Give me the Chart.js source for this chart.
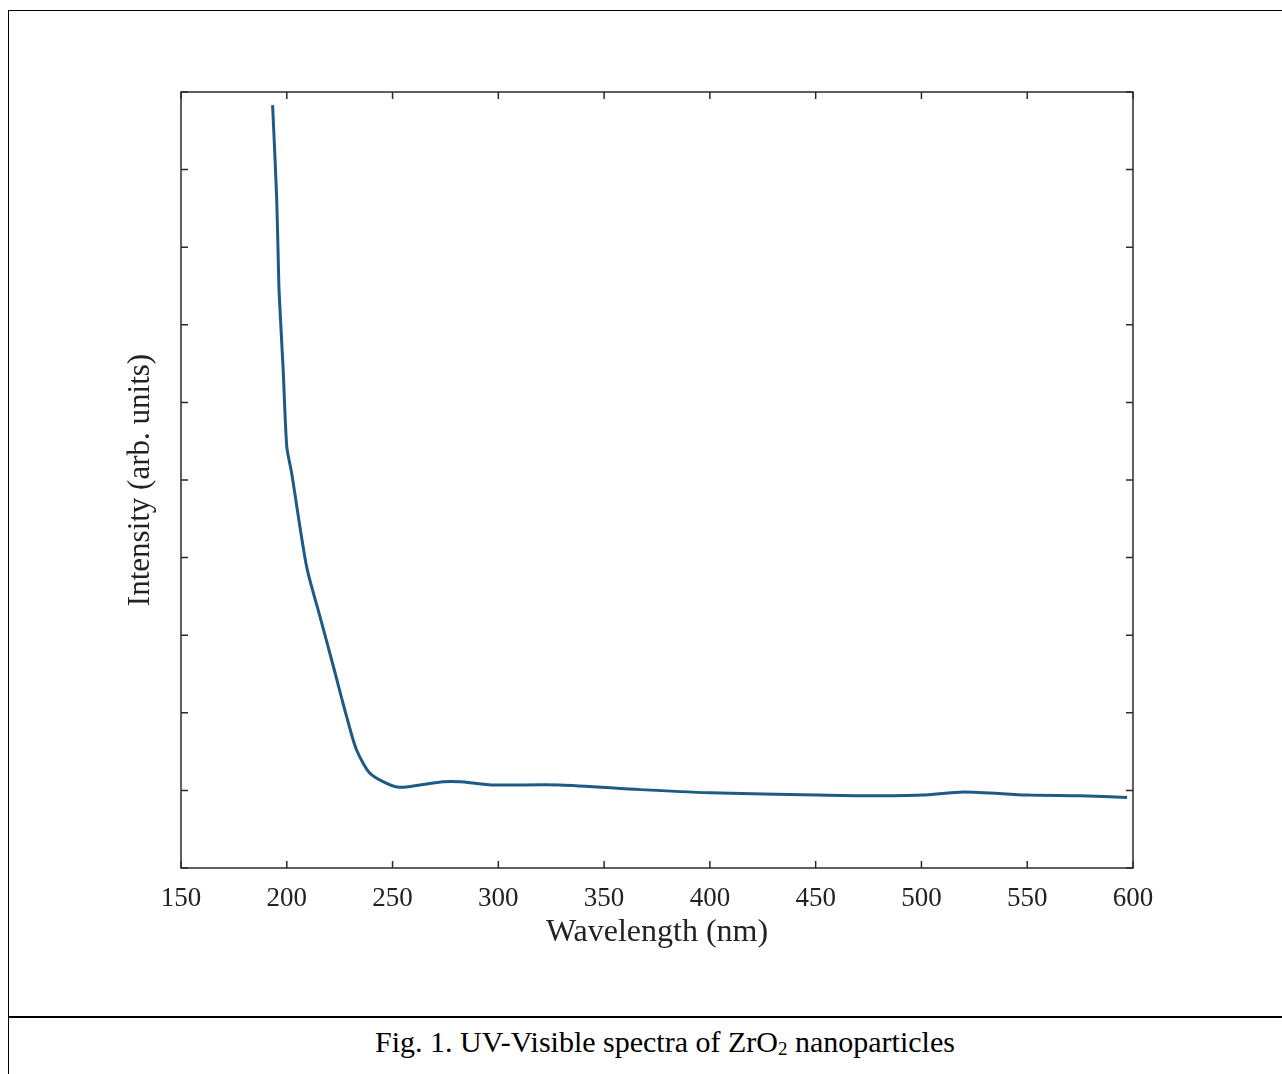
<!DOCTYPE html>
<html>
<head>
<meta charset="utf-8">
<script src="https://cdn.jsdelivr.net/npm/chart.js@4.4.1/dist/chart.umd.min.js"></script>
<style>
  html, body { margin: 0; padding: 0; background: #fff; }
  body { width: 1282px; height: 1074px; position: relative; overflow: hidden; }
  #wrap { position: absolute; left: 0; top: 0; width: 1282px; height: 1000px; }
  .ln { position: absolute; background: #000; }
  #caption { position: absolute; left: 48px; right: 0; top: 1025px; text-align: center;
    font-family: "Liberation Serif", "Times New Roman", serif; font-size: 30px; color: #000; }
  #caption sub { font-size: 19px; vertical-align: -3px; line-height: 0; }
</style>
</head>
<body>
<div class="ln" style="left:8px; top:10px; width:1274px; height:1px;"></div>
<div class="ln" style="left:8px; top:10px; width:1px; height:1064px;"></div>
<div class="ln" style="left:8px; top:1016px; width:1274px; height:2px;"></div>
<div id="wrap"><canvas id="c" width="1282" height="1000"></canvas></div>
<div id="caption">Fig. 1. UV-Visible spectra of ZrO<sub>2</sub> nanoparticles</div>
<script>
const wavelengths = [193.3, 195.2, 196.0, 196.4, 198.3, 200.0, 202.3, 209.4, 215.7, 222.0, 228.3, 233.0, 239.3, 247.2, 253.5, 263.0, 274.0, 281.9, 289.8, 297.6, 329.1, 367.0, 400.0, 450.2, 474.7, 500.3, 520.1, 549.9, 575.0, 597.2];
const intensities = [9.83, 8.65, 7.80, 7.41, 6.42, 5.43, 5.09, 3.88, 3.24, 2.60, 1.95, 1.52, 1.22, 1.09, 1.04, 1.07, 1.11, 1.11, 1.09, 1.07, 1.07, 1.01, 0.97, 0.94, 0.93, 0.94, 0.98, 0.94, 0.93, 0.91];
const xTicks = [150, 200, 250, 300, 350, 400, 450, 500, 550, 600];
const xTitle = "Wavelength (nm)";
const yTitle = "Intensity (arb. units)";

const serif = '"Liberation Serif", "Times New Roman", serif';

const frame = {
  id: 'frame',
  afterDatasetsDraw(chart) {
    const {ctx, chartArea: a, scales: {x, y}} = chart;
    ctx.save();
    ctx.strokeStyle = '#2b2b2b';
    ctx.lineWidth = 1.5;
    const tl = 7;
    ctx.beginPath();
    x.ticks.forEach(t => {
      const px = x.getPixelForValue(t.value);
      ctx.moveTo(px, a.bottom); ctx.lineTo(px, a.bottom - tl);
      ctx.moveTo(px, a.top); ctx.lineTo(px, a.top + tl);
    });
    y.ticks.forEach(t => {
      const py = y.getPixelForValue(t.value);
      ctx.moveTo(a.left, py); ctx.lineTo(a.left + tl, py);
      ctx.moveTo(a.right, py); ctx.lineTo(a.right - tl, py);
    });
    ctx.stroke();
    ctx.strokeRect(a.left, a.top, a.right - a.left, a.bottom - a.top);
    ctx.restore();
  }
};

new Chart(document.getElementById('c'), {
  type: 'line',
  data: {
    datasets: [{
      data: wavelengths.map((w, i) => ({x: w, y: intensities[i]})),
      borderColor: '#1d5a85',
      borderWidth: 3,
      pointRadius: 0,
      tension: 0.25,
      fill: false
    }]
  },
  options: {
    responsive: false,
    animation: false,
    events: [],
    layout: { padding: { top: 92, right: 149, left: 0, bottom: 0 } },
    plugins: { legend: { display: false }, tooltip: { enabled: false } },
    scales: {
      x: {
        type: 'linear', min: 150, max: 600,
        afterBuildTicks: s => { s.ticks = xTicks.map(v => ({value: v})); },
        afterFit: s => { s.height = 132; },
        grid: { display: false, drawTicks: false },
        border: { display: false },
        ticks: { color: '#222', padding: 15, font: { family: serif, size: 27 }, maxRotation: 0, autoSkip: false },
        title: { display: true, text: xTitle, color: '#222', font: { family: serif, size: 32 }, padding: { bottom: 48, top: 0 } }
      },
      y: {
        type: 'linear', min: 0, max: 10,
        ticks: { display: false, stepSize: 1 },
        afterFit: s => { s.width = 181; },
        grid: { display: false, drawTicks: false },
        border: { display: false },
        title: { display: true, text: yTitle, color: '#222', font: { family: serif, size: 31 }, padding: { top: 122, bottom: 0 } }
      }
    }
  },
  plugins: [frame]
});
</script>
</body>
</html>
